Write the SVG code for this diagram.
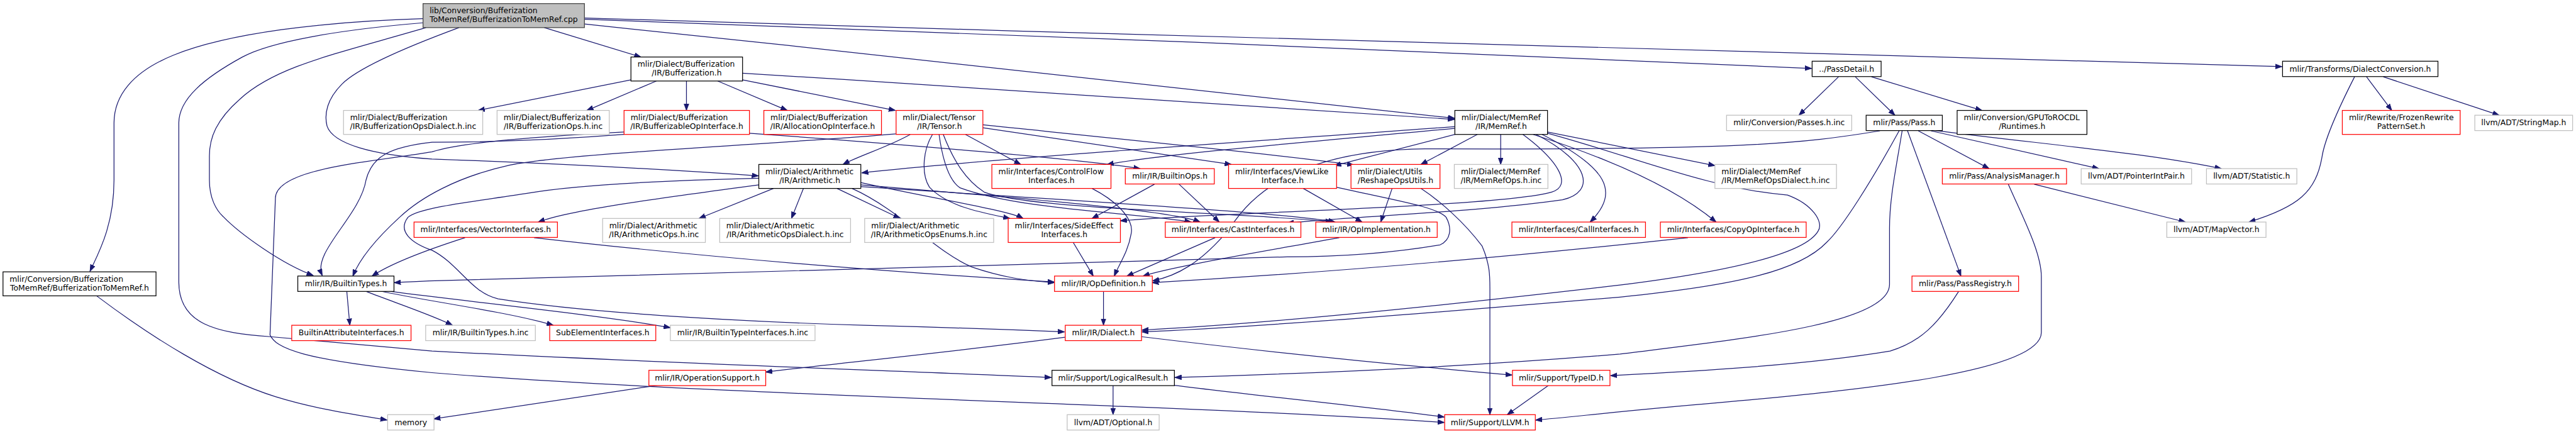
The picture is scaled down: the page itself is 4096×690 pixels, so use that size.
<svg xmlns="http://www.w3.org/2000/svg" width="4096" height="690" viewBox="0 0 4096 690">
<style>
.n rect{fill:#fff;stroke-width:1.3}
.k rect{stroke:#000}
.r rect{stroke:#ff0000}
.g rect{stroke:#bfbfbf}
.m rect{fill:#bfbfbf;stroke:#404040}
text{font-family:"DejaVu Sans","Liberation Sans",sans-serif;font-size:13px;fill:#000}
.c{text-anchor:middle}
#edges path{fill:none;stroke:#191970;stroke-width:1.3;marker-end:url(#ah)}
</style>
<defs>
<marker id="ah" markerWidth="12" markerHeight="9" refX="11" refY="4.5" orient="auto" markerUnits="userSpaceOnUse">
<path d="M0,0.5 L11,4.5 L0,8.5 z" fill="#191970" stroke="#191970" stroke-width="1"/>
</marker>
</defs>
<rect width="4096" height="690" fill="#fff"/>
<g transform="scale(0.9541)">
<g id="edges">
<path d="M705,31 C540,36 380,55 289,92 C220,120 190,160 190,205 L190,300 C190,375 165,420 150,452"/>
<path d="M705,38 C560,50 450,70 404,95 C340,130 298,165 298,205 L298,470 C298,540 360,555 450,561 L720,585 C1100,605 1500,618 1752,629"/>
<path d="M710,46 C560,90 460,110 400,165 C360,200 349,230 349,260 L349,300 C349,330 360,350 372,361 C400,390 470,440 522,459"/>
<path d="M765,46 C700,70 600,110 570,140 C545,165 540,190 545,210 C555,240 620,258 720,265 C1000,275 1150,285 1264,293"/>
<path d="M907,46 L1068,95"/>
<path d="M974,40 C1500,95 2100,160 2424,197"/>
<path d="M974,32 C1500,50 2500,90 3019,114"/>
<path d="M974,30 C2000,60 3200,100 3803,111"/>
<path d="M161,493 C250,560 360,630 459,661 C530,683 600,692 645,700"/>
<path d="M1052,133 L797,184"/>
<path d="M1094,135 L978,184"/>
<path d="M1144,135 L1144,184"/>
<path d="M1196,135 L1312,184"/>
<path d="M1237,133 L1492,184"/>
<path d="M1237,122 C1700,150 2200,185 2424,199"/>
<path d="M3064,128 L2998,192"/>
<path d="M3092,128 L3158,192"/>
<path d="M3119,128 L3303,184"/>
<path d="M3944,128 L3986,184"/>
<path d="M3972,128 L4165,192"/>
<path d="M3924,128 C3895,185 3875,230 3870,260 C3860,320 3830,345 3748,370"/>
<path d="M3197,218 L3315,281"/>
<path d="M3218,218 L3498,281"/>
<path d="M3222,217 C3400,240 3580,255 3702,281"/>
<path d="M3179,218 L3268,460"/>
<path d="M3170,218 C3160,280 3149,330 3149,380 L3149,474 C3149,540 2900,565 2700,590 C2400,615 2100,625 1958,629"/>
<path d="M3165,218 C3120,300 3070,380 3044,404 C3000,450 2900,475 2700,495 C2400,520 2100,545 1903,553"/>
<path d="M3133,218 C3000,240 2900,250 2375,248 C2200,250 2100,300 2050,380 C2000,440 1960,460 1921,468"/>
<path d="M3390,307 L3642,370"/>
<path d="M3347,307 C3370,360 3402,420 3402,461 L3402,554 C3402,620 3100,650 2865,671 C2700,685 2620,695 2559,700"/>
<path d="M3264,486 C3230,540 3200,570 3150,585 C3000,610 2800,620 2684,626"/>
<path d="M2581,642 L2512,691"/>
<path d="M1855,642 L1855,691"/>
<path d="M1957,642 C2100,660 2300,680 2407,695"/>
<path d="M1775,562 C1600,585 1400,605 1276,620"/>
<path d="M1902,561 C2100,585 2350,610 2520,625"/>
<path d="M1096,642 L723,698"/>
<path d="M1839,486 L1839,542"/>
<path d="M578,486 L583,542"/>
<path d="M611,486 C660,505 720,525 754,542"/>
<path d="M634,485 C700,500 850,520 922,542"/>
<path d="M645,485 C800,505 1000,525 1117,546"/>
<path d="M1289,314 L1165,364"/>
<path d="M1339,314 L1319,364"/>
<path d="M1395,314 L1500,364"/>
<path d="M1265,308 C1100,330 950,350 897,370"/>
<path d="M1434,304 C1550,330 1680,350 1705,364"/>
<path d="M1434,308 C1700,330 1950,350 2000,370"/>
<path d="M1434,311 C1800,335 2150,355 2225,370"/>
<path d="M1420,314 C1500,350 1560,420 1620,445 C1670,462 1710,468 1757,471"/>
<path d="M1265,297 C1100,301 960,308 880,322 C790,336 700,345 680,362 C662,385 685,405 720,417 C765,440 785,488 830,498 C1000,525 1300,538 1440,542 C1600,546 1700,550 1774,553"/>
<path d="M1517,224 C1480,245 1430,260 1405,274"/>
<path d="M1609,224 L1701,274"/>
<path d="M1638,213 L2052,274"/>
<path d="M1638,208 C1900,235 2150,260 2256,275"/>
<path d="M1493,223 C1300,240 950,255 850,275 C760,295 700,330 666,362 C630,395 600,430 588,460"/>
<path d="M1554,224 C1538,250 1535,290 1549,312 C1580,345 1640,355 1683,364"/>
<path d="M1565,224 C1570,260 1580,300 1600,313 C1700,350 1900,355 1985,370"/>
<path d="M1572,224 C1590,270 1610,300 1640,320 C1720,350 2100,355 2220,370"/>
<path d="M2424,211 C2100,235 1700,260 1436,288"/>
<path d="M2424,214 C2200,235 1950,255 1845,274"/>
<path d="M2425,224 L2224,276"/>
<path d="M2462,224 L2368,274"/>
<path d="M2501,224 L2501,274"/>
<path d="M2579,220 L2858,276"/>
<path d="M2570,224 C2680,280 2700,320 2650,370"/>
<path d="M2555,224 C2700,270 2800,320 2860,370"/>
<path d="M2579,222 C2720,260 2850,315 2979,325 C3020,340 3040,370 3030,385 C3010,420 2900,450 2700,475 C2400,510 2100,540 1903,550"/>
<path d="M2538,224 C2600,270 2620,310 2586,320 C2500,345 2000,355 1867,368"/>
<path d="M2560,224 C2650,270 2660,320 2604,333 C2450,355 2250,360 2145,372"/>
<path d="M1820,314 C1870,340 1890,370 1885,390 C1880,420 1865,440 1857,460"/>
<path d="M1924,307 L1820,364"/>
<path d="M1965,307 L2032,370"/>
<path d="M2172,314 L2270,370"/>
<path d="M2227,312 C2330,335 2395,345 2410,362 C2420,380 2418,400 2400,408 C2300,425 2200,428 2145,428 C1700,440 1000,462 715,468 C690,469 675,470 657,471"/>
<path d="M2320,314 L2301,370"/>
<path d="M2368,314 C2400,335 2440,370 2470,410 C2483,440 2483,460 2483,480 L2483,691"/>
<path d="M775,396 C700,420 650,440 620,460"/>
<path d="M890,396 C1100,420 1400,448 1757,470"/>
<path d="M1788,403 L1822,460"/>
<path d="M2025,396 L1878,460"/>
<path d="M2232,396 C2100,420 1950,445 1905,460"/>
<path d="M2813,396 C2500,430 2200,455 1920,471"/>
<path d="M1249,222 C1500,240 1800,265 1900,281"/>
<path d="M1040,224 C900,235 780,237 720,237 C650,245 620,260 610,300 C600,360 520,420 537,459"/>
<path d="M1040,220 C850,230 760,240 720,253 C620,270 460,280 459,330 L450,558 C460,580 500,600 720,621 C1200,660 2000,675 2407,704"/>
</g>
<g id="n0" class="n m"><rect x="705" y="6" width="269" height="40"/><text x="716" y="22.5">lib/Conversion/Bufferization</text><text class="c" x="839.5" y="37">ToMemRef/BufferizationToMemRef.cpp</text></g>
<g id="n1" class="n k"><rect x="5" y="453" width="255" height="40"/><text x="16" y="469.5">mlir/Conversion/Bufferization</text><text class="c" x="132.5" y="484">ToMemRef/BufferizationToMemRef.h</text></g>
<g id="n2" class="n k"><rect x="1051.5" y="95" width="186" height="40"/><text x="1062.5" y="111.5">mlir/Dialect/Bufferization</text><text class="c" x="1144.5" y="126">/IR/Bufferization.h</text></g>
<g id="n3" class="n k"><rect x="3020" y="102" width="115" height="25.6"/><text class="c" x="3077.5" y="119">../PassDetail.h</text></g>
<g id="n4" class="n k"><rect x="3804" y="102" width="259" height="25.6"/><text class="c" x="3933.5" y="119">mlir/Transforms/DialectConversion.h</text></g>
<g id="n5" class="n g"><rect x="572.5" y="184" width="232" height="40"/><text x="583.5" y="200.5">mlir/Dialect/Bufferization</text><text class="c" x="688.5" y="215">/IR/BufferizationOpsDialect.h.inc</text></g>
<g id="n6" class="n g"><rect x="828.4" y="184" width="187" height="40"/><text x="839.4" y="200.5">mlir/Dialect/Bufferization</text><text class="c" x="921.9" y="215">/IR/BufferizationOps.h.inc</text></g>
<g id="n7" class="n r"><rect x="1040" y="184" width="209" height="40"/><text x="1051" y="200.5">mlir/Dialect/Bufferization</text><text class="c" x="1144.5" y="215">/IR/BufferizableOpInterface.h</text></g>
<g id="n8" class="n r"><rect x="1273" y="184" width="196" height="40"/><text x="1284" y="200.5">mlir/Dialect/Bufferization</text><text class="c" x="1371" y="215">/IR/AllocationOpInterface.h</text></g>
<g id="n9" class="n r"><rect x="1493.4" y="184" width="144.6" height="40"/><text x="1504.4" y="200.5">mlir/Dialect/Tensor</text><text class="c" x="1565.7" y="215">/IR/Tensor.h</text></g>
<g id="n10" class="n k"><rect x="2424.6" y="184" width="154.4" height="40"/><text x="2435.6" y="200.5">mlir/Dialect/MemRef</text><text class="c" x="2501.8" y="215">/IR/MemRef.h</text></g>
<g id="n11" class="n g"><rect x="2877.4" y="192" width="208.6" height="25.6"/><text class="c" x="2981.7" y="209">mlir/Conversion/Passes.h.inc</text></g>
<g id="n12" class="n k"><rect x="3110" y="192" width="127" height="25.6"/><text class="c" x="3173.5" y="209">mlir/Pass/Pass.h</text></g>
<g id="n13" class="n k"><rect x="3261.7" y="184" width="216.3" height="40"/><text x="3272.7" y="200.5">mlir/Conversion/GPUToROCDL</text><text class="c" x="3369.9" y="215">/Runtimes.h</text></g>
<g id="n14" class="n r"><rect x="3903.6" y="184" width="196.4" height="40"/><text x="3914.6" y="200.5">mlir/Rewrite/FrozenRewrite</text><text class="c" x="4001.8" y="215">PatternSet.h</text></g>
<g id="n15" class="n g"><rect x="4124.4" y="192" width="163" height="25.6"/><text class="c" x="4205.9" y="209">llvm/ADT/StringMap.h</text></g>
<g id="n16" class="n k"><rect x="1264.6" y="274" width="170" height="40"/><text x="1275.6" y="290.5">mlir/Dialect/Arithmetic</text><text class="c" x="1349.6" y="305">/IR/Arithmetic.h</text></g>
<g id="n17" class="n r"><rect x="1653" y="274" width="198.5" height="40"/><text x="1664" y="290.5">mlir/Interfaces/ControlFlow</text><text class="c" x="1752.3" y="305">Interfaces.h</text></g>
<g id="n18" class="n r"><rect x="1875.4" y="281" width="148.3" height="25.6"/><text class="c" x="1949.6" y="298">mlir/IR/BuiltinOps.h</text></g>
<g id="n19" class="n r"><rect x="2047.5" y="274" width="180" height="40"/><text x="2058.5" y="290.5">mlir/Interfaces/ViewLike</text><text class="c" x="2137.6" y="305">Interface.h</text></g>
<g id="n20" class="n r"><rect x="2251.5" y="274" width="148.3" height="40"/><text x="2262.5" y="290.5">mlir/Dialect/Utils</text><text class="c" x="2325.7" y="305">/ReshapeOpsUtils.h</text></g>
<g id="n21" class="n g"><rect x="2423.7" y="274" width="156" height="40"/><text x="2434.7" y="290.5">mlir/Dialect/MemRef</text><text class="c" x="2501.8" y="305">/IR/MemRefOps.h.inc</text></g>
<g id="n22" class="n g"><rect x="2858" y="274" width="202.6" height="40"/><text x="2869" y="290.5">mlir/Dialect/MemRef</text><text class="c" x="2959.3" y="305">/IR/MemRefOpsDialect.h.inc</text></g>
<g id="n23" class="n r"><rect x="3237" y="281" width="207" height="25.6"/><text class="c" x="3340.5" y="298">mlir/Pass/AnalysisManager.h</text></g>
<g id="n24" class="n g"><rect x="3468.4" y="281" width="184" height="25.6"/><text class="c" x="3560.4" y="298">llvm/ADT/PointerIntPair.h</text></g>
<g id="n25" class="n g"><rect x="3677.2" y="281" width="150.6" height="25.6"/><text class="c" x="3752.5" y="298">llvm/ADT/Statistic.h</text></g>
<g id="n26" class="n r"><rect x="690" y="370" width="239" height="25.6"/><text class="c" x="809.5" y="387">mlir/Interfaces/VectorInterfaces.h</text></g>
<g id="n27" class="n g"><rect x="1004.3" y="364" width="171.2" height="40"/><text x="1015.3" y="380.5">mlir/Dialect/Arithmetic</text><text class="c" x="1089.9" y="395">/IR/ArithmeticOps.h.inc</text></g>
<g id="n28" class="n g"><rect x="1199.4" y="364" width="218.1" height="40"/><text x="1210.4" y="380.5">mlir/Dialect/Arithmetic</text><text class="c" x="1308.5" y="395">/IR/ArithmeticOpsDialect.h.inc</text></g>
<g id="n29" class="n g"><rect x="1441" y="364" width="215" height="40"/><text x="1452" y="380.5">mlir/Dialect/Arithmetic</text><text class="c" x="1548.5" y="395">/IR/ArithmeticOpsEnums.h.inc</text></g>
<g id="n30" class="n r"><rect x="1680.2" y="364" width="187" height="40"/><text x="1691.2" y="380.5">mlir/Interfaces/SideEffect</text><text class="c" x="1773.7" y="395">Interfaces.h</text></g>
<g id="n31" class="n r"><rect x="1942" y="370" width="226" height="25.6"/><text class="c" x="2055" y="387">mlir/Interfaces/CastInterfaces.h</text></g>
<g id="n32" class="n r"><rect x="2192.8" y="370" width="202.4" height="25.6"/><text class="c" x="2294" y="387">mlir/IR/OpImplementation.h</text></g>
<g id="n33" class="n r"><rect x="2519.7" y="370" width="222.6" height="25.6"/><text class="c" x="2631" y="387">mlir/Interfaces/CallInterfaces.h</text></g>
<g id="n34" class="n r"><rect x="2767.1" y="370" width="243" height="25.6"/><text class="c" x="2888.6" y="387">mlir/Interfaces/CopyOpInterface.h</text></g>
<g id="n35" class="n g"><rect x="3611.1" y="370" width="165.3" height="25.6"/><text class="c" x="3693.8" y="387">llvm/ADT/MapVector.h</text></g>
<g id="n36" class="n k"><rect x="496.3" y="460" width="160.3" height="25.6"/><text class="c" x="576.5" y="477">mlir/IR/BuiltinTypes.h</text></g>
<g id="n37" class="n r"><rect x="1757.4" y="460" width="163" height="25.6"/><text class="c" x="1838.9" y="477">mlir/IR/OpDefinition.h</text></g>
<g id="n38" class="n r"><rect x="3186.4" y="460" width="177.7" height="25.6"/><text class="c" x="3275.3" y="477">mlir/Pass/PassRegistry.h</text></g>
<g id="n39" class="n r"><rect x="486.2" y="542" width="198.8" height="25.6"/><text class="c" x="585.6" y="559">BuiltinAttributeInterfaces.h</text></g>
<g id="n40" class="n g"><rect x="709.4" y="542" width="182.8" height="25.6"/><text class="c" x="800.8" y="559">mlir/IR/BuiltinTypes.h.inc</text></g>
<g id="n41" class="n r"><rect x="916.1" y="542" width="176.8" height="25.6"/><text class="c" x="1004.5" y="559">SubElementInterfaces.h</text></g>
<g id="n42" class="n g"><rect x="1117.2" y="542" width="241.1" height="25.6"/><text class="c" x="1237.8" y="559">mlir/IR/BuiltinTypeInterfaces.h.inc</text></g>
<g id="n43" class="n r"><rect x="1775.3" y="542" width="127.1" height="25.6"/><text class="c" x="1838.9" y="559">mlir/IR/Dialect.h</text></g>
<g id="n44" class="n r"><rect x="1081.4" y="617" width="194.7" height="25.6"/><text class="c" x="1178.8" y="634">mlir/IR/OperationSupport.h</text></g>
<g id="n45" class="n k"><rect x="1753.2" y="617" width="204" height="25.6"/><text class="c" x="1855.2" y="634">mlir/Support/LogicalResult.h</text></g>
<g id="n46" class="n r"><rect x="2520.6" y="617" width="162.5" height="25.6"/><text class="c" x="2601.9" y="634">mlir/Support/TypeID.h</text></g>
<g id="n47" class="n g"><rect x="646" y="691" width="77.3" height="25.6"/><text class="c" x="684.7" y="708">memory</text></g>
<g id="n48" class="n g"><rect x="1778.5" y="691" width="153.3" height="25.6"/><text class="c" x="1855.2" y="708">llvm/ADT/Optional.h</text></g>
<g id="n49" class="n r"><rect x="2407.6" y="691" width="151.1" height="25.6"/><text class="c" x="2483.2" y="708">mlir/Support/LLVM.h</text></g>
</g>
</svg>
